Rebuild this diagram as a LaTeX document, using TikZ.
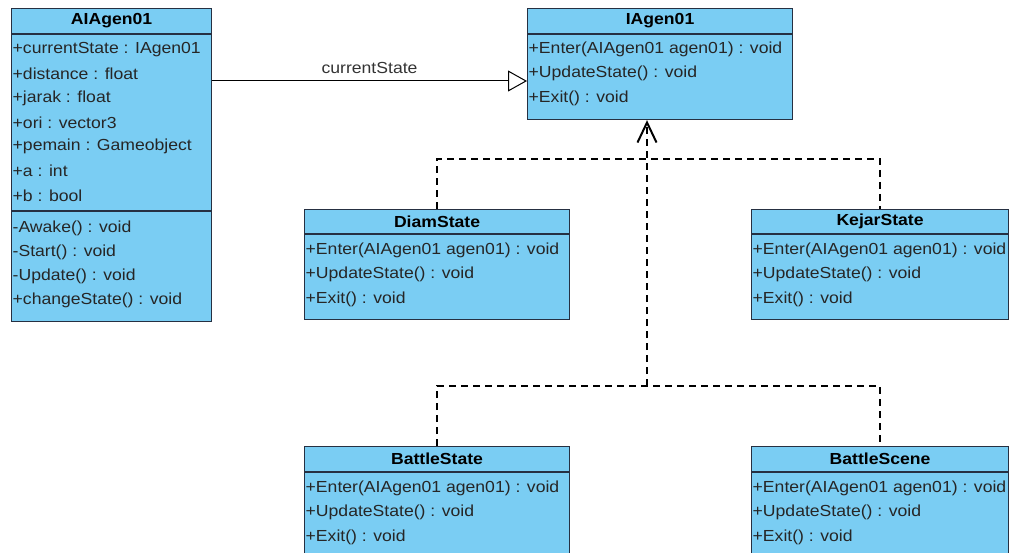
\documentclass[tikz,border=0pt]{standalone}
\usepackage{fontspec}
\setmainfont{Liberation Sans}[FakeStretch=1.1]
\usetikzlibrary{arrows.meta,calc,positioning}
\definecolor{classfill}{RGB}{122,205,243}
\definecolor{classline}{RGB}{38,48,66}
\tikzset{
	classhead/.style={draw=classline,fill=classfill,line width=1.1pt,anchor=north west,inner sep=0pt,minimum height=25pt,font=\bfseries},
	classbody/.style={draw=classline,fill=classfill,line width=1.1pt,anchor=north west,inner sep=0pt},
	member/.style={anchor=west,inner sep=1.5pt,text=black!85},
	dep/.style={line width=1.2pt,dash pattern=on 7pt off 5pt},
}
\begin{document}
\fontsize{16pt}{19pt}\selectfont
\begin{tikzpicture}[x=1pt,y=-1pt]
	\useasboundingbox (0,0) rectangle (1009,553);
	\clip (0,0) rectangle (1009,553);
	% AIAgen01
	\node[classhead,minimum width=200pt] (ai) at (11,8) {AIAgen01};
	\node[classbody,minimum width=200pt,minimum height=176pt] (aiattr) at (ai.south west) {};
	\node[classbody,minimum width=200pt,minimum height=110pt] (aiop) at (aiattr.south west) {};
	\foreach \txt [count=\i] in {{+currentState : IAgen01},{+distance : float},{+jarak : float},{+ori : vector3},{+pemain : Gameobject},{+a : int},{+b : bool}}
		\node[member] (aiattr\i) at ($(aiattr.north west)+(0,-9.4+24.4*\i)$) {\txt};
	\foreach \txt [count=\i] in {{-Awake() : void},{-Start() : void},{-Update() : void},{+changeState() : void}}
		\node[member] (aiop\i) at ($(aiop.north west)+(0,-7+24*\i)$) {\txt};
	% IAgen01
	\node[classhead,minimum width=265pt] (ia) at (527,8) {IAgen01};
	\node[classbody,minimum width=265pt,minimum height=85pt] (iabody) at (ia.south west) {};
	\node[member] (ia1) at ($(iabody.north west)+(0,15)$) {+Enter(AIAgen01 agen01) : void};
	\node[member] (ia2) at ($(iabody.north west)+(0,39.5)$) {+UpdateState() : void};
	\node[member] (ia3) at ($(iabody.north west)+(0,64)$) {+Exit() : void};
	% DiamState
	\node[classhead,minimum width=265pt,minimum height=24pt] (diam) at (304,209) {DiamState};
	\node[classbody,minimum width=265pt,minimum height=85pt] (diambody) at (diam.south west) {};
	\node[member] (diam1) at ($(diambody.north west)+(0,16)$) {+Enter(AIAgen01 agen01) : void};
	\node[member] (diam2) at ($(diambody.north west)+(0,40.5)$) {+UpdateState() : void};
	\node[member] (diam3) at ($(diambody.north west)+(0,65)$) {+Exit() : void};
	% KejarState
	\node[classhead,minimum width=257pt,minimum height=24pt] (kejar) at (751,209) {KejarState};
	\node[classbody,minimum width=257pt,minimum height=85pt] (kejarbody) at (kejar.south west) {};
	\node[member] (kejar1) at ($(kejarbody.north west)+(0,16)$) {+Enter(AIAgen01 agen01) : void};
	\node[member] (kejar2) at ($(kejarbody.north west)+(0,40.5)$) {+UpdateState() : void};
	\node[member] (kejar3) at ($(kejarbody.north west)+(0,65)$) {+Exit() : void};
	% BattleState
	\node[classhead,minimum width=265pt] (battle) at (304,446) {BattleState};
	\node[classbody,minimum width=265pt,minimum height=85pt] (battlebody) at (battle.south west) {};
	\node[member] (battle1) at ($(battlebody.north west)+(0,16)$) {+Enter(AIAgen01 agen01) : void};
	\node[member] (battle2) at ($(battlebody.north west)+(0,40.5)$) {+UpdateState() : void};
	\node[member] (battle3) at ($(battlebody.north west)+(0,65)$) {+Exit() : void};
	% BattleScene
	\node[classhead,minimum width=257pt] (scene) at (751,446) {BattleScene};
	\node[classbody,minimum width=257pt,minimum height=85pt] (scenebody) at (scene.south west) {};
	\node[member] (scene1) at ($(scenebody.north west)+(0,16)$) {+Enter(AIAgen01 agen01) : void};
	\node[member] (scene2) at ($(scenebody.north west)+(0,40.5)$) {+UpdateState() : void};
	\node[member] (scene3) at ($(scenebody.north west)+(0,65)$) {+Exit() : void};
	% association
	\draw[line width=1pt,-{Triangle[open,length=19pt,width=21pt,fill=white]}] (aiattr.east |- 0,81) -- (iabody.west |- 0,81)
		node[midway,above=2pt,text=black!80] (cslabel) {currentState};
	% realizations
	\coordinate (junc) at (647,386);
	\draw[dep] (diam.north) -- ++(0,-50) -| (kejar.north);
	\draw[dep] (battle.north) -- (battle.north |- junc) -| (scene.north);
	\draw[dep,-{Straight Barb[length=20pt,width=19pt,line width=2pt]}] (junc) -- (junc |- iabody.south);
\end{tikzpicture}
\end{document}
